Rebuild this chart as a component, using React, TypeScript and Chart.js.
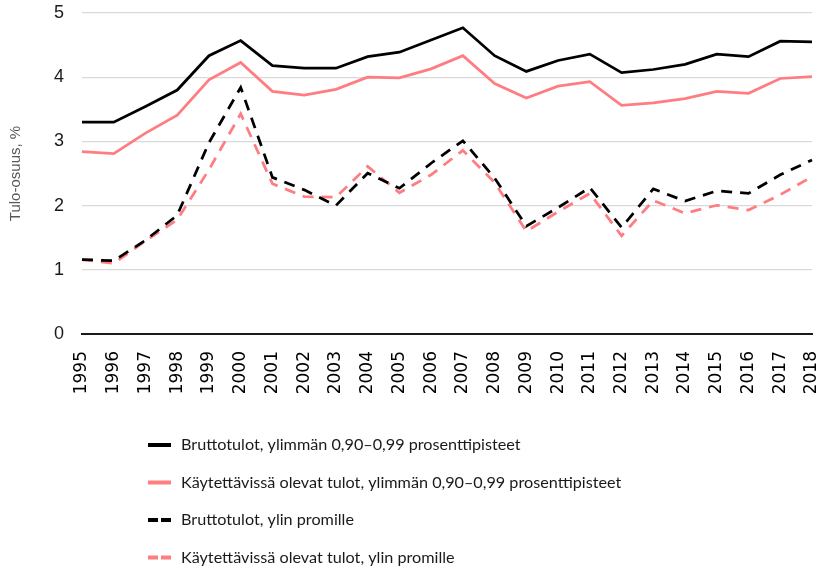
import React, { useEffect, useRef } from "react";
import { Chart, registerables } from "chart.js";

Chart.register(...registerables);

const years = ["1995","1996","1997","1998","1999","2000","2001","2002","2003","2004","2005","2006","2007","2008","2009","2010","2011","2012","2013","2014","2015","2016","2017","2018"];
const grossTop = [3.30,3.30,3.545,3.80,4.335,4.57,4.18,4.14,4.14,4.32,4.39,4.58,4.77,4.335,4.09,4.26,4.36,4.07,4.12,4.20,4.36,4.32,4.56,4.55];
const dispTop = [2.84,2.81,3.13,3.41,3.96,4.23,3.78,3.72,3.81,4.00,3.99,4.13,4.335,3.90,3.675,3.86,3.93,3.56,3.60,3.665,3.78,3.75,3.98,4.01];
const grossPromille = [1.16,1.14,1.46,1.85,2.98,3.84,2.44,2.245,2.00,2.505,2.27,2.66,3.01,2.43,1.68,1.97,2.28,1.66,2.26,2.07,2.23,2.19,2.48,2.71];
const dispPromille = [1.16,1.10,1.45,1.78,2.56,3.43,2.34,2.14,2.13,2.61,2.20,2.48,2.86,2.36,1.60,1.905,2.19,1.53,2.08,1.88,2.005,1.93,2.17,2.45];
const seriesLabels = [
  "Bruttotulot, ylimmän 0,90–0,99 prosenttipisteet",
  "Käytettävissä olevat tulot, ylimmän 0,90–0,99 prosenttipisteet",
  "Bruttotulot, ylin promille",
  "Käytettävissä olevat tulot, ylin promille",
];
const yTitle = "Tulo-osuus, %";

const BLACK = "#000000";
const PINK = "#ff7c80";

const legendPlugin = {
  id: "columnLegend",
  afterDraw(chart: any) {
    const ctx = chart.ctx;
    const x0 = 148, x1 = 171, tx = 181, y0 = 445, dy = 37.5;
    chart.data.datasets.forEach((ds: any, i: number) => {
      const y = y0 + i * dy;
      ctx.save();
      ctx.strokeStyle = ds.borderColor;
      ctx.lineWidth = 4;
      ctx.lineCap = "butt";
      ctx.setLineDash(ds.borderDash && ds.borderDash.length ? [10, 3] : []);
      ctx.beginPath();
      ctx.moveTo(x0, y);
      ctx.lineTo(x1, y);
      ctx.stroke();
      ctx.setLineDash([]);
      ctx.fillStyle = "#1a1a1a";
      ctx.font = "16.2px Lato";
      ctx.textBaseline = "middle";
      ctx.textAlign = "left";
      ctx.fillText(ds.label, tx, y);
      ctx.restore();
    });
  },
};

export default function App() {
  const ref = useRef<HTMLCanvasElement>(null);
  useEffect(() => {
    document.body.style.margin = "0";
    const canvas = ref.current!;
    const chart = new Chart(canvas, {
      type: "line",
      data: {
        labels: years,
        datasets: [
          { label: seriesLabels[0], data: grossTop, borderColor: BLACK, backgroundColor: BLACK, borderWidth: 2.75, pointRadius: 0, tension: 0 },
          { label: seriesLabels[1], data: dispTop, borderColor: PINK, backgroundColor: PINK, borderWidth: 2.75, pointRadius: 0, tension: 0 },
          { label: seriesLabels[2], data: grossPromille, borderColor: BLACK, backgroundColor: BLACK, borderWidth: 2.75, borderDash: [11, 8], pointRadius: 0, tension: 0 },
          { label: seriesLabels[3], data: dispPromille, borderColor: PINK, backgroundColor: PINK, borderWidth: 2.75, borderDash: [11, 8], pointRadius: 0, tension: 0 },
        ],
      },
      options: {
        responsive: false,
        animation: false,
        layout: { padding: { left: 0, right: 10, top: 13, bottom: 164 } },
        plugins: { legend: { display: false }, tooltip: { enabled: false } },
        scales: {
          x: {
            offset: false,
            grid: { display: false, drawTicks: false },
            border: { display: true, color: "#1a1a1a", width: 2 },
            ticks: {
              minRotation: 90,
              maxRotation: 90,
              autoSkip: false,
              padding: 17,
              color: "#000",
              font: { family: "DejaVu Sans", size: 17 },
            },
            afterFit: (s: any) => { s.height = 70; s.paddingLeft = 0; s.paddingRight = 0; s.paddingTop = 0; s.paddingBottom = 0; },
          },
          y: {
            min: 0,
            max: 5,
            ticks: {
              stepSize: 1,
              padding: 18,
              color: "#1a1a1a",
              font: { family: "Liberation Sans", size: 18 },
            },
            grid: { color: "#d9d9d9", lineWidth: 1.3, drawTicks: false },
            border: { display: false },
            title: {
              display: true,
              text: yTitle,
              color: "#595959",
              font: { family: "Liberation Sans", size: 15 },
              padding: { top: 7, bottom: 0 },
            },
            afterFit: (s: any) => { s.width = 82; s.paddingTop = 0; s.paddingBottom = 0; s.paddingLeft = 0; s.paddingRight = 0; },
          },
        },
      },
      plugins: [legendPlugin],
    });
    return () => chart.destroy();
  }, []);
  return (
    <div style={{ width: 822, height: 568 }}>
      <canvas ref={ref} width={822} height={568} style={{ display: "block" }} />
    </div>
  );
}
